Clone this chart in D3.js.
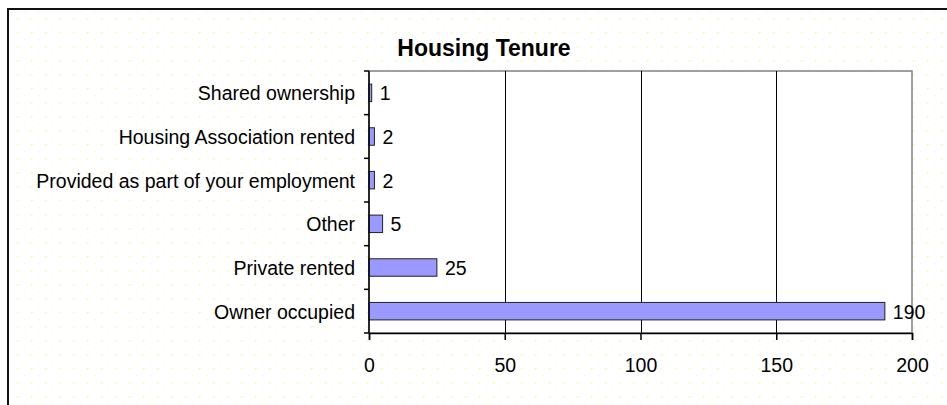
<!DOCTYPE html>
<html>
<head>
<meta charset="utf-8">
<script src="https://cdn.jsdelivr.net/npm/d3@7"></script>
<style>
  html, body { margin: 0; padding: 0; background: #fff; }
  svg { display: block; }
  text { font-family: "Liberation Sans", Arial, sans-serif; }
</style>
</head>
<body>
<svg id="chart" width="947" height="405"></svg>
<script>
const categories = ["Shared ownership", "Housing Association rented", "Provided as part of your employment", "Other", "Private rented", "Owner occupied"];
const values = [1, 2, 2, 5, 25, 190];
const xTicks = [0, 50, 100, 150, 200];
const title = "Housing Tenure";

const svg = d3.select("#chart");
const W = 947, H = 405;
const FS = 19.5;

// dotted background pattern
const defs = svg.append("defs");
const pat = defs.append("pattern").attr("id", "dots").attr("patternUnits", "userSpaceOnUse")
  .attr("width", 14).attr("height", 14).attr("x", 3).attr("y", 4);
pat.append("rect").attr("x", 0).attr("y", 0).attr("width", 1.6).attr("height", 1.6).attr("fill", "#fff6a8");
pat.append("rect").attr("x", 7).attr("y", 7).attr("width", 1.3).attr("height", 1.3).attr("fill", "#fffac8");

svg.append("rect").attr("x", 0).attr("y", 0).attr("width", W).attr("height", H).attr("fill", "#fff");
svg.append("rect").attr("x", 9).attr("y", 10).attr("width", W).attr("height", H).attr("fill", "url(#dots)");
// outer frame
svg.append("rect").attr("x", 8).attr("y", 9).attr("width", 1000).attr("height", 500)
  .attr("fill", "none").attr("stroke", "#111").attr("stroke-width", 2);

const pLeft = 369, pRight = 912, pTop = 71, pBottom = 333;

const x = d3.scaleLinear().domain([0, 200]).range([pLeft, pRight]);
const y = d3.scaleBand().domain(categories).range([pTop, pBottom]).paddingInner(0.6).paddingOuter(0.3);
const yb = d3.scaleBand().domain(categories).range([pTop, pBottom]);

// plot area
svg.append("rect").attr("x", pLeft).attr("y", pTop).attr("width", pRight - pLeft).attr("height", pBottom - pTop)
  .attr("fill", "#fff").attr("stroke", "#808080").attr("stroke-width", 1.5);

// gridlines
svg.append("g").selectAll("line").data(xTicks.filter(d => d > 0 && d < 200)).join("line")
  .attr("x1", d => Math.round(x(d)) + 0.5).attr("x2", d => Math.round(x(d)) + 0.5)
  .attr("y1", pTop).attr("y2", pBottom).attr("stroke", "#000").attr("stroke-width", 1);

// bars
svg.append("g").selectAll("rect").data(categories).join("rect")
  .attr("x", x(0)).attr("y", d => y(d))
  .attr("width", (d, i) => x(values[i]) - x(0)).attr("height", y.bandwidth())
  .attr("fill", "#9999ff").attr("stroke", "#222").attr("stroke-width", 1);

// value labels
svg.append("g").selectAll("text").data(categories).join("text")
  .attr("x", (d, i) => x(values[i]) + 8).attr("y", d => y(d) + y.bandwidth() / 2)
  .attr("dy", "0.38em").attr("font-size", FS).attr("fill", "#000")
  .text((d, i) => values[i]);

// x axis
const xAxis = d3.axisBottom(x).tickValues(xTicks).tickSize(7).tickPadding(18).tickFormat(d3.format("d"));
const gx = svg.append("g").attr("transform", `translate(0,${pBottom})`).call(xAxis);
gx.select(".domain").attr("stroke", "#000").attr("stroke-width", 1.5);
gx.selectAll(".tick line").attr("stroke", "#000").attr("stroke-width", 1.5);
gx.selectAll(".tick text").attr("font-size", FS).attr("font-family", "Liberation Sans, Arial, sans-serif").attr("fill", "#000");

// y axis (category boundaries ticks)
const gy = svg.append("g");
gy.append("line").attr("x1", pLeft).attr("x2", pLeft).attr("y1", pTop).attr("y2", pBottom)
  .attr("stroke", "#000").attr("stroke-width", 1.5);
gy.selectAll("line.tk").data(categories.concat(["_end"])).join("line").attr("class", "tk")
  .attr("x1", pLeft - 5).attr("x2", pLeft)
  .attr("y1", (d, i) => i < categories.length ? yb(d) : pBottom)
  .attr("y2", (d, i) => i < categories.length ? yb(d) : pBottom)
  .attr("stroke", "#000").attr("stroke-width", 1.5);
gy.selectAll("text").data(categories).join("text")
  .attr("x", pLeft - 14).attr("y", d => yb(d) + yb.bandwidth() / 2).attr("dy", "0.38em")
  .attr("text-anchor", "end").attr("font-size", FS).attr("fill", "#000").text(d => d);

// title
svg.append("text").attr("x", 484).attr("y", 56).attr("text-anchor", "middle")
  .attr("font-size", 23).attr("font-weight", "bold").attr("fill", "#000").text(title);
</script>
</body>
</html>
